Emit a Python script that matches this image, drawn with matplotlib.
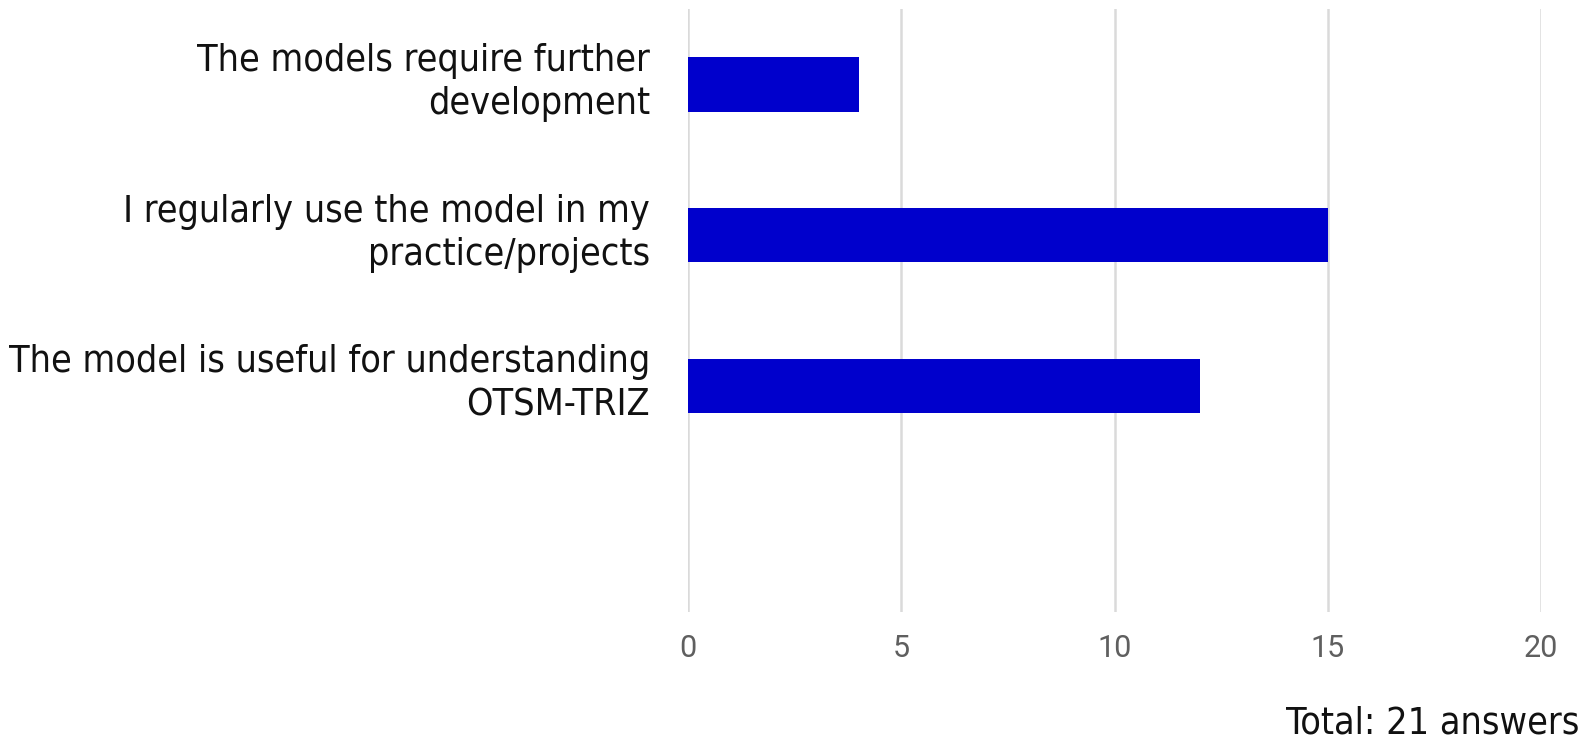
import matplotlib
matplotlib.use("Agg")
import matplotlib.pyplot as plt
import matplotlib.transforms as mtransforms

categories = [
    "The models require further\ndevelopment",
    "I regularly use the model in my\npractice/projects",
    "The model is useful for understanding\nOTSM-TRIZ",
]
values = [4, 15, 12]
xticks = [0, 5, 10, 15, 20]
total_text = "Total: 21 answers"

label_font = dict(family="DejaVu Sans", stretch="condensed")

fig = plt.figure(figsize=(15.9, 7.39), dpi=100)
ax = fig.add_axes([0.4327, 0.1719, 0.9692 - 0.4327, 0.9878 - 0.1719])

ypos = list(range(len(categories)))
ax.barh(ypos, values, height=0.36, color="#0000cc", zorder=3)
ax.set_ylim(3.5, -0.5)
ax.set_xlim(0, 20)
ax.set_xticks(xticks)
ax.set_xticklabels([str(t) for t in xticks], fontsize=22, color="#5f5f5f",
                   family="Roboto")
ax.set_yticks(ypos)
ax.set_yticklabels([])
label_tr = ax.get_yaxis_transform() + mtransforms.ScaledTranslation(
    -38 / 100, 2 / 100, fig.dpi_scale_trans)
for y, lab in zip(ypos, categories):
    ax.text(0, y, lab, transform=label_tr, ha="right", va="center",
            fontsize=27, color="#111111", linespacing=1.25, **label_font)
ax.tick_params(axis="y", length=0)
ax.tick_params(axis="x", length=0, pad=16)
for s in ax.spines.values():
    s.set_visible(False)
ax.grid(axis="x", color="#dadada", linewidth=1.8, zorder=0)
ax.grid(axis="y", visible=False)

fig.text(1579 / 1590, 1 - 723 / 739, total_text, ha="right", va="center",
         fontsize=27, color="#111111", **label_font)

fig.savefig("out.png", dpi=100)
